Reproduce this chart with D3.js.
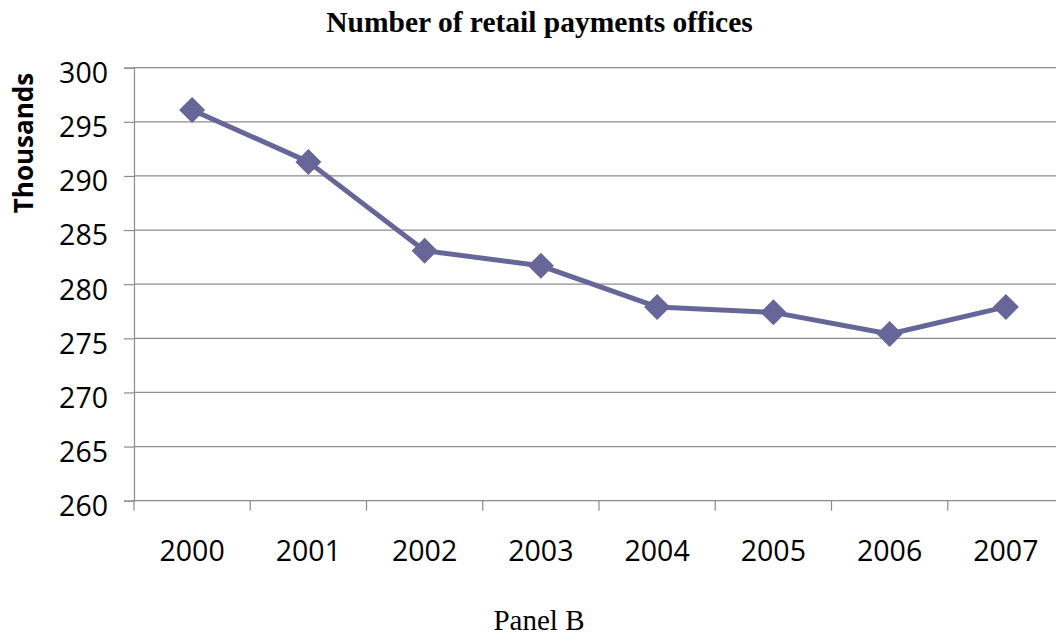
<!DOCTYPE html>
<html><head><meta charset="utf-8">
<script src="https://cdn.jsdelivr.net/npm/d3@7"></script>
<style>body{margin:0;background:#fff}</style>
</head><body>
<svg id="c" width="1056" height="637"></svg>
<script>
const categories = ["2000","2001","2002","2003","2004","2005","2006","2007"];
const values = [296.1, 291.3, 283.1, 281.7, 277.9, 277.4, 275.4, 277.9];
const yTicks = [260,265,270,275,280,285,290,295,300];
const title = "Number of retail payments offices";
const yTitle = "Thousands";
const footer = "Panel B";

(function(){
const svg = d3.select("#c");
const pLeft = 134, pRight = 1064, pTop = 67.7, pBottom = 500.7;
const x = d3.scaleBand().domain(categories).range([pLeft, pRight]);
const y = d3.scaleLinear().domain([260,300]).range([pBottom, pTop]);
const grid = "#8c8c8c";

svg.append("g").selectAll("line").data(yTicks).join("line")
  .attr("x1", pLeft).attr("x2", pRight)
  .attr("y1", d=>y(d)).attr("y2", d=>y(d))
  .attr("stroke", grid).attr("stroke-width", 1.2);

const ya = svg.append("g").attr("transform", `translate(${pLeft},0)`)
  .call(d3.axisLeft(y).tickValues(yTicks).tickSize(10).tickPadding(16).tickFormat(d3.format("d")));
ya.select(".domain").attr("stroke", grid).attr("stroke-width",1.2);
ya.selectAll(".tick line").attr("stroke", grid).attr("stroke-width",1.2);
ya.selectAll("text").attr("font-family","'Open Sans', sans-serif").attr("font-size", 28.5).attr("fill","#000")
  .attr("dy", "0.52em");

const xa = svg.append("g").attr("transform", `translate(0,${pBottom})`)
  .call(d3.axisBottom(x).tickSize(0).tickPadding(40));
xa.select(".domain").remove();
xa.selectAll("text").attr("font-family","'Open Sans', sans-serif").attr("font-size", 28.5).attr("fill","#000");
const bounds = categories.map(c => x(c));
svg.append("g").selectAll("line").data(bounds).join("line")
  .attr("x1", d=>d).attr("x2", d=>d).attr("y1", pBottom).attr("y2", pBottom+10)
  .attr("stroke", grid).attr("stroke-width",1.2);

const cx = c => x(c) + x.bandwidth()/2;
const pts = categories.map((c,i)=>[cx(c), y(values[i])]);
svg.append("path").attr("d", d3.line()(pts))
  .attr("fill","none").attr("stroke","#666699").attr("stroke-width",5).attr("stroke-linejoin","round");
svg.append("g").selectAll("path").data(pts).join("path")
  .attr("transform", d=>`translate(${d[0]},${d[1]})`)
  .attr("d", "M0,-13L13,0L0,13L-13,0Z")
  .attr("fill","#666699");

svg.append("text").attr("x", 539.5).attr("y", 32).attr("text-anchor","middle")
  .attr("font-family","'Liberation Serif', serif").attr("font-weight","bold").attr("font-size", 29.5)
  .text(title);
svg.append("text").attr("transform","translate(33,143) rotate(-90)").attr("text-anchor","middle")
  .attr("font-family","'Open Sans', sans-serif").attr("font-weight","bold").attr("font-size", 26)
  .text(yTitle);
svg.append("text").attr("x", 539).attr("y", 630).attr("text-anchor","middle")
  .attr("font-family","'Liberation Serif', serif").attr("font-size", 29)
  .text(footer);
})();
</script>
</body></html>
